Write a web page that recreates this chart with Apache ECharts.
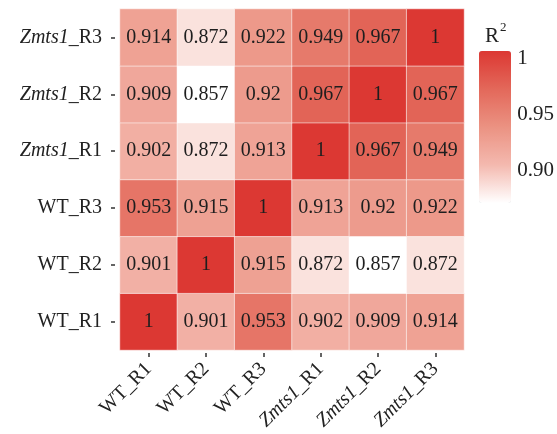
<!DOCTYPE html>
<html>
<head>
<meta charset="utf-8">
<script src="https://cdn.jsdelivr.net/npm/echarts@6/dist/echarts.min.js"></script>
<style>
  html, body { margin: 0; padding: 0; background: #fff; }
  #chart { width: 557px; height: 434px; }
</style>
</head>
<body>
<div id="chart"></div>
<script>
  // 样本名称 (x 轴从左到右, y 轴从下到上)
  var samples = ['WT_R1', 'WT_R2', 'WT_R3', 'Zmts1_R1', 'Zmts1_R2', 'Zmts1_R3'];

  // 相关系数 R^2, 每行对应 y 轴的一个样本
  var rowWT_R1 = [1, 0.901, 0.953, 0.902, 0.909, 0.914];
  var rowWT_R2 = [0.901, 1, 0.915, 0.872, 0.857, 0.872];
  var rowWT_R3 = [0.953, 0.915, 1, 0.913, 0.92, 0.922];
  var rowZmts1_R1 = [0.902, 0.872, 0.913, 1, 0.967, 0.949];
  var rowZmts1_R2 = [0.909, 0.857, 0.92, 0.967, 1, 0.967];
  var rowZmts1_R3 = [0.914, 0.872, 0.922, 0.949, 0.967, 1];

  var rows = [rowWT_R1, rowWT_R2, rowWT_R3, rowZmts1_R1, rowZmts1_R2, rowZmts1_R3];

  // 色标刻度
  var legendTicks = [0.9, 0.95, 1];

  var font = 'Liberation Serif';
  var fontSize = 20;

  var heatData = [];
  rows.forEach(function (row, yi) {
    row.forEach(function (v, xi) {
      heatData.push([xi, yi, v]);
    });
  });

  // Zmts1 斜体
  function sampleLabel(name) {
    if (name.indexOf('Zmts1') === 0) {
      return '{i|Zmts1}{n|' + name.slice(5) + '}';
    }
    return '{n|' + name + '}';
  }

  var labelRich = {
    i: { fontFamily: font, fontStyle: 'italic', fontSize: fontSize, color: '#222' },
    n: { fontFamily: font, fontSize: fontSize, color: '#222' }
  };

  var myChart = echarts.init(document.getElementById('chart'));

  var option = {
    backgroundColor: '#fff',
    animation: false,
    title: {
      text: '{r|R}{s|2}',
      left: 480,
      top: 16,
      textStyle: {
        fontWeight: 'normal',
        rich: {
          r: { fontFamily: font, fontSize: 21, color: '#222', fontWeight: 'normal' },
          s: { fontFamily: font, fontSize: 13, color: '#222', fontWeight: 'normal', padding: [0, 0, 17, 1] }
        }
      }
    },
    grid: [
      { left: 120, right: 93, top: 9, bottom: 84 },
      { left: 479, width: 32, top: 58, height: 145.6 }
    ],
    xAxis: [{
      type: 'category',
      data: samples,
      offset: 3,
      axisLine: { show: false },
      axisTick: { show: true, alignWithLabel: true, length: 4, lineStyle: { color: '#333', width: 1.5 } },
      axisLabel: {
        rotate: 45,
        margin: 13,
        formatter: sampleLabel,
        rich: labelRich
      },
      splitLine: { show: false }
    }, {
      gridIndex: 1,
      type: 'value',
      show: false
    }],
    yAxis: [{
      type: 'category',
      data: samples,
      offset: 5,
      axisLine: { show: false },
      axisTick: { show: true, alignWithLabel: true, length: 4, lineStyle: { color: '#333', width: 1.5 } },
      axisLabel: {
        margin: 13,
        formatter: sampleLabel,
        rich: labelRich
      },
      splitLine: { show: false }
    }, {
      gridIndex: 1,
      type: 'value',
      position: 'right',
      min: 0.87,
      max: 1,
      axisLine: { show: false },
      axisTick: { show: false },
      splitLine: { show: false },
      axisLabel: {
        customValues: legendTicks,
        margin: 7,
        fontFamily: font,
        fontSize: 21,
        color: '#222',
        formatter: function (v) {
          if (v === 1) return '1';
          return v.toFixed(2);
        }
      }
    }],
    visualMap: {
      type: 'continuous',
      seriesIndex: 0,
      dimension: 2,
      min: 0.857,
      max: 1,
      orient: 'vertical',
      left: 479,
      top: 51,
      padding: 0,
      itemWidth: 32,
      itemHeight: 152,
      calculable: false,
      hoverLink: false,
      text: null,
      showLabel: false,
      inRange: {
        color: ['#ffffff', '#f4b9af', '#eb9282', '#e3685a', '#dc3833']
      }
    },
    series: [{
      type: 'heatmap',
      data: heatData,
      label: {
        show: true,
        fontFamily: font,
        fontSize: fontSize,
        color: '#1e1e1e',
        formatter: function (p) {
          return String(p.value[2]);
        }
      },
      itemStyle: {
        borderColor: 'rgba(255,255,255,0.55)',
        borderWidth: 1
      },
      emphasis: { disabled: true }
    }]
  };

  myChart.setOption(option);
</script>
</body>
</html>
